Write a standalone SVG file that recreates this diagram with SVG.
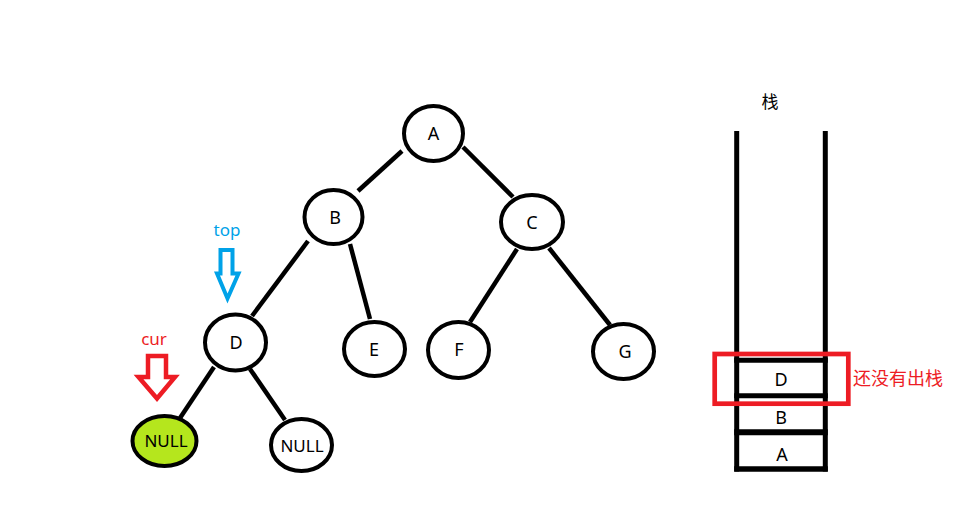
<svg xmlns="http://www.w3.org/2000/svg" width="974" height="514" viewBox="0 0 974 514">
<style>
.n ellipse{fill:#fff;stroke:#000;stroke-width:4}
.n text,.lbl{font-family:"Noto Sans","Liberation Sans","Noto Sans CJK SC",sans-serif;font-size:18px;text-anchor:middle;fill:#000}
.n text.null{font-size:17px}
.e line{stroke:#000;stroke-width:4.5}
.cjk{font-family:"Noto Sans CJK SC",sans-serif;font-size:17px}
</style>
<rect width="974" height="514" fill="#fff"/>
<g class="e" id="connectors">
<line x1="402" y1="151" x2="358" y2="191"/>
<line x1="463" y1="147" x2="513" y2="197"/>
<line x1="308" y1="241" x2="252" y2="316"/>
<line x1="350" y1="244" x2="370" y2="319"/>
<line x1="517" y1="249" x2="470" y2="322"/>
<line x1="549" y1="248" x2="610" y2="325"/>
<line x1="214" y1="367" x2="180" y2="418"/>
<line x1="250" y1="369" x2="285" y2="420"/>
</g>
<g class="n" id="node-A"><ellipse cx="433.5" cy="133.5" rx="29.5" ry="27.5"/><text x="433.5" y="140">A</text></g>
<g class="n" id="node-B"><ellipse cx="333.5" cy="217" rx="29" ry="27"/><text x="335" y="223.5">B</text></g>
<g class="n" id="node-C"><ellipse cx="532" cy="222" rx="31" ry="27"/><text x="532" y="228.5">C</text></g>
<g class="n" id="node-D"><ellipse cx="235.5" cy="342.5" rx="30.5" ry="28"/><text x="236" y="349">D</text></g>
<g class="n" id="node-E"><ellipse cx="374.5" cy="349" rx="30.5" ry="27"/><text x="374" y="355.5">E</text></g>
<g class="n" id="node-F"><ellipse cx="458.5" cy="350" rx="30.5" ry="28"/><text x="459" y="355.5">F</text></g>
<g class="n" id="node-G"><ellipse cx="623.5" cy="351.5" rx="30.5" ry="27.5"/><text x="625" y="358">G</text></g>
<g class="n" id="node-null1"><ellipse cx="164.5" cy="441" rx="32" ry="25" style="fill:#B5E61D"/><text class="null" x="166" y="447">NULL</text></g>
<g class="n" id="node-null2"><ellipse cx="301.5" cy="445" rx="30.5" ry="26"/><text class="null" x="302" y="452">NULL</text></g>
<g id="top-pointer">
<text class="lbl" x="227" y="236" style="fill:#00A2E8;font-size:17px">top</text>
<polygon points="220.5,250 232.5,250 232.5,273.5 238.5,273.5 227.5,298.5 217,273.5 220.5,273.5" fill="none" stroke="#00A2E8" stroke-width="4" stroke-linejoin="miter"/>
</g>
<g id="cur-pointer">
<text class="lbl" x="154" y="345" style="fill:#ED1C24;font-size:17px">cur</text>
<polygon points="148,356 166,356 166,377 175,377 157,398.5 138.5,377 148,377" fill="none" stroke="#ED1C24" stroke-width="4.5" stroke-linejoin="miter"/>
</g>
<g id="stack">
<text class="lbl cjk" x="770" y="108">栈</text>
<line x1="736.7" y1="131" x2="736.7" y2="471.5" stroke="#000" stroke-width="5"/>
<line x1="825.3" y1="131" x2="825.3" y2="471.5" stroke="#000" stroke-width="5"/>
<line x1="734.2" y1="469" x2="827.8" y2="469" stroke="#000" stroke-width="5.5"/>
<line x1="734.2" y1="432.3" x2="827.8" y2="432.3" stroke="#000" stroke-width="6"/>
<line x1="734.2" y1="395.8" x2="827.8" y2="395.8" stroke="#000" stroke-width="5"/>
<line x1="734.2" y1="360.2" x2="827.8" y2="360.2" stroke="#000" stroke-width="5"/>
<line x1="738" y1="360" x2="738" y2="396" stroke="#000" stroke-width="2"/>
<line x1="824" y1="360" x2="824" y2="396" stroke="#000" stroke-width="2"/>
<g id="cell-D"><text class="lbl" x="781" y="385.5">D</text></g>
<g id="cell-B"><text class="lbl" x="781" y="423.5">B</text></g>
<g id="cell-A"><text class="lbl" x="782" y="461">A</text></g>
<rect x="714.7" y="354" width="133.6" height="49.7" fill="none" stroke="#ED1C24" stroke-width="4.7"/>
<text class="cjk" x="853" y="385" style="fill:#ED1C24;font-size:18px">还没有出栈</text>
</g>
</svg>
